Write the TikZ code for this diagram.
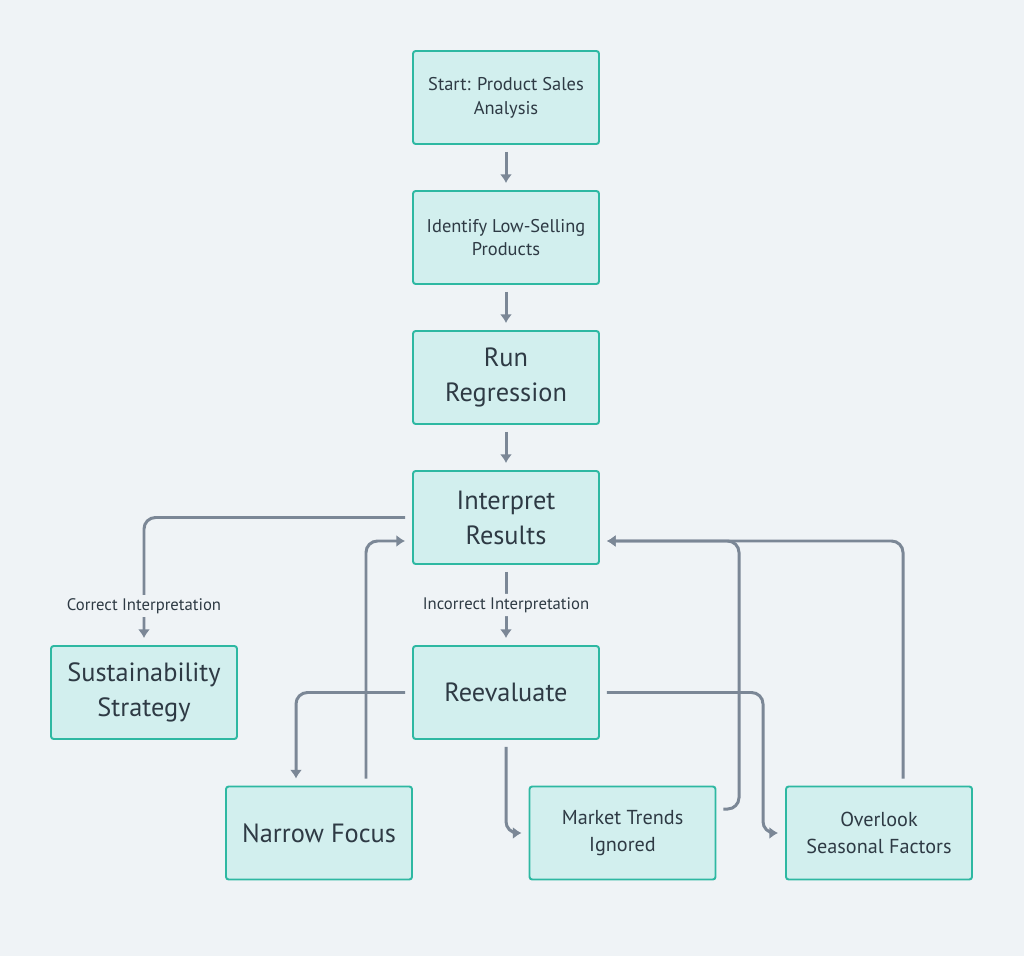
\documentclass[tikz,border=0pt]{standalone}
\usepackage{fontspec}
\setmainfont{PT Sans}
\usetikzlibrary{arrows.meta,positioning}
\definecolor{bgColor}{HTML}{EFF3F6}
\definecolor{boxFill}{HTML}{D2EFEE}
\definecolor{boxEdge}{HTML}{2EB8A2}
\definecolor{lineGray}{HTML}{7B8796}
\definecolor{textDark}{HTML}{2E3A44}
\newcommand{\boxWidth}{3.72cm}
\newcommand{\boxHeight}{1.86cm}
\newcommand{\gapShort}{0.14cm}

\begin{document}
\begin{tikzpicture}[x=0.02cm, y=-0.02cm,
  box/.style={draw=boxEdge, fill=boxFill, line width=1.1pt, rounded corners=1.5pt,
    minimum width=\boxWidth, minimum height=\boxHeight, align=center, text=textDark, inner sep=2pt},
  bigText/.style={font=\fontsize{15}{20}\selectfont},
  smallText/.style={font=\fontsize{10.5}{13.6}\selectfont},
  midText/.style={font=\fontsize{11.5}{15.4}\selectfont},
  flow/.style={draw=lineGray, line width=1.7pt, rounded corners=6.5pt,
    -{Latex[length=5pt,width=7pt]}, shorten <=\gapShort, shorten >=\gapShort},
  lbl/.style={fill=bgColor, text=textDark, font=\fontsize{9.5}{11}\selectfont, inner sep=2pt}]
\fill[bgColor] (0,0) rectangle (1024,956);
\useasboundingbox (0,0) rectangle (1024,956);

% main column
\node[box, smallText] (start) at (506,97.5) {Start: Product Sales\\Analysis};
\node[box, smallText] (identify) at (506,237.5) {Identify Low-Selling\\Products};
\node[box, bigText] (regress) at (506,377.5) {Run\\Regression};
\node[box, bigText] (interp) at (506,517.5) {Interpret\\Results};
\node[box, bigText] (reeval) at (506,692.5) {Reevaluate};

% outcomes
\node[box, bigText] (sustain) at (144,692.5) {Sustainability\\Strategy};
\node[box, bigText] (narrow) at (319,833) {Narrow Focus};
\node[box, midText] (market) at (622.5,833) {Market Trends\\Ignored};
\node[box, midText] (overlook) at (879,833) {Overlook\\Seasonal Factors};

\coordinate (marketTurn) at (739,541);
\coordinate (overTurn) at (763,760);

\draw[flow] (start) -- (identify);
\draw[flow] (identify) -- (regress);
\draw[flow] (regress) -- (interp);
\draw[flow] (interp.west) -| (sustain.north);
\node[lbl] (correctLbl) at (144,606) {Correct Interpretation};
\draw[flow] (interp) -- node[lbl] (wrongLbl) {Incorrect Interpretation} (reeval);

\draw[flow] (reeval.west) -| ([xshift=-0.46cm]narrow.north);
\draw[flow] ([xshift=0.94cm]narrow.north) |- ([yshift=-0.47cm]interp.west);
\draw[flow] (reeval.south) |- (market.west);
\draw[flow] ([yshift=0.48cm]market.east) -| (marketTurn) -- ([yshift=-0.47cm]interp.east);
\draw[flow] (reeval.east) -| (overTurn) |- (overlook.west);
\draw[flow] ([xshift=0.48cm]overlook.north) |- ([yshift=-0.47cm]interp.east);
\end{tikzpicture}
\end{document}
